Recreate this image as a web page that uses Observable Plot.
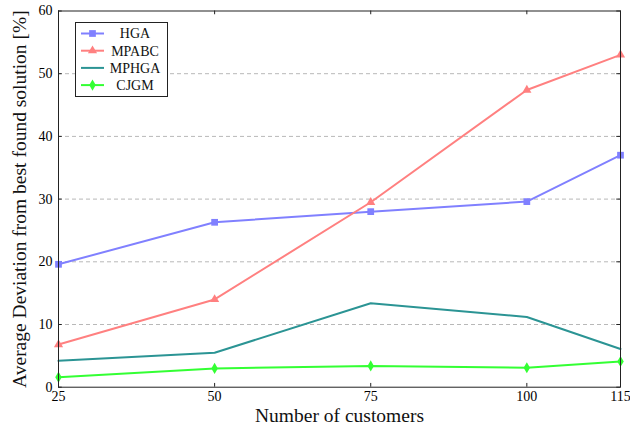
<!DOCTYPE html>
<html>
<head>
<meta charset="utf-8">
<script src="https://cdn.jsdelivr.net/npm/d3@7"></script>
<script src="https://cdn.jsdelivr.net/npm/@observablehq/plot@0.6"></script>
<style>
  html, body { margin: 0; padding: 0; background: #fff; }
  #chart svg { font-family: "Liberation Serif", "DejaVu Serif", serif; }
</style>
</head>
<body>
<div id="chart"></div>
<script>
// ---- data ----
const customers = [25, 50, 75, 100, 115];
const seriesNames = ["HGA", "MPABC", "MPHGA", "CJGM"];
const hga   = [19.6, 26.3, 28.0, 29.6, 37.0];
const mpabc = [6.8, 14.0, 29.5, 47.4, 53.0];
const mphga = [4.2, 5.5, 13.4, 11.2, 6.1];
const cjgm  = [1.6, 3.0, 3.4, 3.1, 4.1];
const xTicks = [25, 50, 75, 100, 115];
const yTicks = [0, 10, 20, 30, 40, 50, 60];
const gridTicks = [10, 20, 30, 40, 50];
const colors = ["#8080ff", "#ff8080", "#2b9494", "#33ff33"];
const symbols = ["square", "triangle", null, "diamond"];
const xLabel = "Number of customers";
const yLabel = "Average Deviation from best found solution [%]";

const valuesBySeries = [hga, mpabc, mphga, cjgm];
const rows = [];
seriesNames.forEach((s, i) => customers.forEach((c, j) => rows.push({series: s, x: c, y: valuesBySeries[i][j]})));

const marks = [
  Plot.gridY(gridTicks, {stroke: "#b8b8b8", strokeOpacity: 1, strokeDasharray: "4,3"}),
  // inward ticks
  Plot.ruleX(xTicks, {y1: 0, y2: 0.6, stroke: "#222"}),
  Plot.ruleX(xTicks, {y1: 60, y2: 59.4, stroke: "#222"}),
  Plot.ruleY(yTicks, {x1: 25, x2: 25.6, stroke: "#222"}),
  Plot.ruleY(yTicks, {x1: 115, x2: 114.4, stroke: "#222"}),
  Plot.axisX(xTicks, {tickSize: 0, tickPadding: 4, fontSize: 14, label: null}),
  Plot.axisY(yTicks, {tickSize: 0, tickPadding: 6, fontSize: 14, label: null}),
];
seriesNames.forEach((s, i) => {
  const d = rows.filter(r => r.series === s);
  marks.push(Plot.line(d, {x: "x", y: "y", stroke: colors[i], strokeWidth: 2}));
  if (symbols[i]) {
    marks.push(Plot.dot(d, {x: "x", y: "y", fill: colors[i], stroke: "none", symbol: symbols[i], r: symbols[i] === "square" ? 3.8 : 3.4}));
  }
});
marks.push(Plot.frame({stroke: "#222", strokeWidth: 1}));
marks.push(Plot.text([xLabel], {frameAnchor: "bottom", dy: 28.5, textAnchor: "middle", lineAnchor: "middle", fontSize: 19.5, fill: "#111"}));
marks.push(Plot.text([yLabel], {frameAnchor: "left", rotate: -90, dx: -39, textAnchor: "middle", lineAnchor: "middle", fontSize: 19.5, fill: "#111"}));

const chart = Plot.plot({
  width: 630,
  height: 430,
  marginLeft: 58,
  marginRight: 10,
  marginTop: 10.5,
  marginBottom: 43.3,
  x: {domain: [25, 115], axis: null},
  y: {domain: [0, 60], axis: null},
  style: {fontFamily: "Liberation Serif, serif", background: "#fff"},
  marks
});
document.getElementById("chart").appendChild(chart);

// ---- legend (drawn inside the plot area) ----
const svg = d3.select(chart);
const lg = svg.append("g").attr("font-family", "Liberation Serif, serif").attr("font-size", 14);
lg.append("rect").attr("x", 75.5).attr("y", 22.5).attr("width", 92).attr("height", 74)
  .attr("fill", "#fff").attr("stroke", "#222").attr("stroke-width", 1);
const symMap = {square: d3.symbolSquare, triangle: d3.symbolTriangle, diamond: d3.symbolDiamond};
seriesNames.forEach((s, i) => {
  const cy = 33.5 + i * 17.2;
  lg.append("line").attr("x1", 81).attr("x2", 104).attr("y1", cy).attr("y2", cy)
    .attr("stroke", colors[i]).attr("stroke-width", 2);
  if (symbols[i]) {
    const r = symbols[i] === "square" ? 3.8 : 3.4;
    lg.append("path").attr("d", d3.symbol(symMap[symbols[i]], Math.PI * r * r)())
      .attr("transform", `translate(92.5,${cy})`).attr("fill", colors[i]);
  }
  lg.append("text").attr("x", 135).attr("y", cy).attr("dy", "0.35em").attr("text-anchor", "middle")
    .attr("fill", "#111").text(s);
});
</script>
</body>
</html>
